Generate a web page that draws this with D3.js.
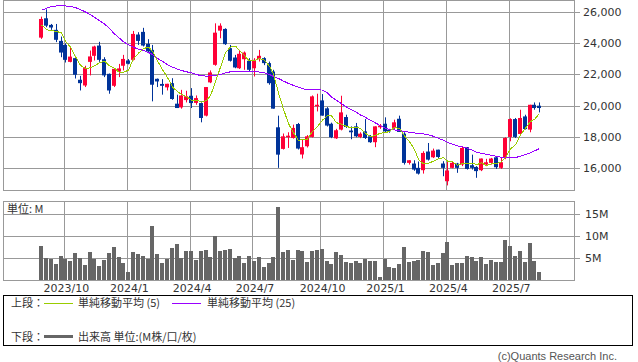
<!DOCTYPE html>
<html>
<head>
<meta charset="utf-8">
<script src="https://cdn.jsdelivr.net/npm/d3@7"></script>
<style>
  body { margin: 0; background: #fff; }
  text { font-family: "DejaVu Sans", "Noto Sans CJK JP", sans-serif; font-size: 11px; fill: #333; }
  .jp { font-family: "Noto Sans CJK JP", sans-serif; }
</style>
</head>
<body>
<svg width="638" height="362"></svg>
<script>
// weekly bars, 2023/08/28 .. 2025/08/18
const opens = [24370,25615,25190,24870,24160,23900,22810,23050,21660,21290,22810,23200,23860,22980,22040,21270,22190,22560,22900,22940,
  24570,24740,23970,23580,21720,21390,21170,21440,20120,19880,20350,20630,20170,20160,19350,21490,22620,24820,24930,23690,
  23090,22400,22980,22880,22400,22980,23050,22730,22190,18600,17210,17960,17910,18810,16850,17380,17980,19950,20330,19820,
  18830,17890,18450,19260,18390,18660,17980,18340,18020,17640,18600,18830,18450,18560,19150,18190,16310,16270,15990,15840,
  17040,16670,17160,16270,15130,15990,16270,16200,17320,16160,16050,15840,16200,16310,16670,15990,16630,17980,19130,18170,
  19300,18450,20050,19990];
const highs = [25720,26190,25250,25250,24440,24000,23800,23200,21910,22560,23540,23850,24100,23110,22060,22380,22680,23260,22990,24800,
  24720,25000,24270,23900,21740,21700,21400,21760,20700,21010,20950,21120,20650,20270,21190,22260,25290,25290,24970,23900,
  23260,23580,23480,23050,23050,23580,23110,22830,22300,19350,18200,18280,18770,18880,17830,18100,20650,20760,20740,19900,
  18900,18500,20630,19410,18660,18880,18280,19130,18100,18660,18810,19240,18500,19090,19350,18280,16480,16480,16400,17060,
  17590,17230,17160,16420,16420,16420,16310,17380,17320,16840,16100,16590,16570,16630,16740,16630,17960,19180,19200,19730,
  19410,20050,20200,20200];
const lows = [24290,25040,24870,24080,23110,22770,22780,21740,20970,21190,21940,22900,22810,21830,20760,21190,21830,22260,22650,22900,
  23900,23800,23370,20270,21190,20700,20970,20370,19840,19800,20200,19840,20050,18920,19300,21440,22560,24330,23900,22830,
  22400,22350,22300,22200,21870,22830,22600,21340,19800,15990,17170,17270,17870,17170,16590,17300,17940,19620,19350,18650,
  17900,17850,18400,18560,17830,17960,17900,17850,17600,17320,18500,18300,18250,18450,18300,16200,16200,15800,15560,15620,
  16460,16620,16600,15450,14860,15960,15670,16100,15880,15880,15350,15780,16100,16200,15920,15920,16550,17700,17910,18130,
  18450,18280,19730,19560];
const closes = [25570,25140,25020,24230,23410,22940,23150,21980,21440,22410,23160,23800,22940,21940,20970,22360,22390,23000,22690,24610,
  24160,23860,23480,21340,21550,21270,21400,20420,19840,20650,20600,20160,20480,19200,21190,22130,24690,25140,23950,22880,
  22450,23330,23410,22300,22940,23200,22730,21440,19800,16840,18020,18060,18560,17230,17320,18020,20590,20050,19350,18710,
  17960,18410,19560,18620,18280,18020,18190,17910,17640,18660,18710,18340,18340,18920,18300,16310,16480,15880,15620,16950,
  16520,17100,16690,15990,15820,16310,15990,17270,15920,15990,15780,16590,16350,16590,16030,16350,17910,19130,17980,19200,
  18490,20050,19840,19840];
// closes of the 4 weeks before the first bar (for the 5-week average)
const priorCloses = [26700, 25300, 24500, 23900];
// 25-week average as drawn
const ma25 = [26128,26257,26364,26406,26406,26406,26385,26300,26171,26021,25850,25679,25465,25251,24952,24610,24332,24096,23904,23754,
  23626,23540,23412,23284,23027,22856,22620,22471,22342,22257,22171,22107,22000,21914,21893,21914,21936,22000,22107,22171,
  22193,22193,22193,22193,22193,22150,22107,22000,21872,21743,21572,21423,21294,21187,21080,21038,21016,21016,20995,20802,
  20546,20332,20118,19904,19733,19561,19390,19241,19048,18877,18706,18535,18449,18428,18385,18342,18278,18236,18193,18171,
  18107,18022,17893,17765,17636,17508,17401,17337,17252,17123,16995,16931,16867,16803,16738,16674,16653,16631,16653,16738,
  16845,16952,17080,17230];
// volume, millions
const volumes = [7.8,5.0,4.8,3.7,5.5,4.8,4.35,6.2,5.0,3.4,6.4,4.8,3.2,4.6,6.2,7.6,5.3,3.9,1.8,6.4,
  6.0,5.5,4.8,12.4,6.0,3.9,4.8,7.3,8.2,5.0,6.6,6.6,4.6,6.6,6.9,5.3,10.1,6.6,6.9,7.1,
  5.0,5.5,3.9,5.5,4.35,5.3,3.0,3.9,5.3,16.7,6.4,6.9,4.6,6.9,6.6,4.1,6.6,6.9,7.1,4.35,
  3.7,6.4,5.7,4.1,3.9,4.35,3.9,4.8,4.35,4.35,0.7,4.8,3.0,2.7,3.7,7.6,4.1,4.35,4.6,6.6,
  6.4,3.4,3.9,6.2,8.7,3.4,3.9,3.9,5.5,5.3,4.35,5.3,3.7,4.6,4.1,4.1,9.2,7.8,5.5,6.6,
  4.1,8.5,4.35,1.8];

const xTickIndex = [5, 18, 31, 44, 58, 71, 84, 97];
const xTickLabels = ["2023/10", "2024/1", "2024/4", "2024/7", "2024/10", "2025/1", "2025/4", "2025/7"];
const priceTicks = [16000, 18000, 20000, 22000, 24000, 26000];
const volTicks = [5, 10, 15];

const svg = d3.select("svg");
const left = 3, right = 574;
const x = d3.scaleLinear().domain([-7.5, 110.6]).range([left, right]);
const y = d3.scaleLinear().domain([16000, 26000]).range([167.7, 12.3]);
const yv = d3.scaleLinear().domain([0, 15]).range([280, 214.3]);
const px = i => Math.round(x(i));
const crisp = v => Math.round(v) + 0.5;
const gridColor = "#999";

const ma5 = closes.map((c, i) => d3.mean(priorCloses.concat(closes).slice(i, i + 5)));

// ---- grids
function panelGrid(top, bottom, ticks, scale) {
  const g = svg.append("g").attr("stroke", gridColor).attr("stroke-width", 1).attr("fill", "none");
  ticks.forEach(t => {
    g.append("line").attr("x1", left + 0.5).attr("x2", right + 6)
      .attr("y1", crisp(scale(t))).attr("y2", crisp(scale(t)));
  });
  xTickIndex.forEach(i => {
    const gx = Math.floor(x(i) + 0.9) + 0.5;
    g.append("line").attr("x1", gx).attr("x2", gx).attr("y1", top).attr("y2", bottom);
  });
  g.append("rect").attr("x", left + 0.5).attr("y", top).attr("width", right - left).attr("height", bottom - top);
}
panelGrid(0.5, 190.5, priceTicks, y);
panelGrid(201.5, 280.5, volTicks, yv);

// ---- candles
const up = "#ff0036", down = "#003399";
const candles = svg.append("g").selectAll("g").data(closes).enter().append("g")
  .attr("fill", (c, i) => c >= opens[i] ? up : down)
  .attr("stroke", (c, i) => c >= opens[i] ? up : down);
candles.append("line")
  .attr("x1", (c, i) => px(i) + 2.5).attr("x2", (c, i) => px(i) + 2.5)
  .attr("y1", (c, i) => y(highs[i])).attr("y2", (c, i) => y(lows[i]))
  .attr("stroke-width", 1);
candles.append("rect")
  .attr("stroke", "none")
  .attr("x", (c, i) => px(i)).attr("width", 4)
  .attr("y", (c, i) => y(Math.max(c, opens[i])))
  .attr("height", (c, i) => Math.max(1, Math.abs(y(c) - y(opens[i]))));

// ---- moving averages (aliased like the original)
const line = d3.line().x((d, i) => px(i) + 2.5).y(d => y(d));
svg.append("path").datum(ma25).attr("d", line).attr("fill", "none").attr("stroke", "#9900ff")
  .attr("stroke-width", 1).attr("shape-rendering", "crispEdges");
svg.append("path").datum(ma5).attr("d", line).attr("fill", "none").attr("stroke", "#99cc00")
  .attr("stroke-width", 1).attr("shape-rendering", "crispEdges");

// ---- volume
svg.append("g").attr("fill", "#666").attr("shape-rendering", "crispEdges")
  .selectAll("rect").data(volumes).enter().append("rect")
  .attr("x", (v, i) => px(i)).attr("width", 4)
  .attr("y", v => yv(v)).attr("height", v => 280 - yv(v));

// ---- axis labels
svg.append("g").selectAll("text").data(priceTicks).enter().append("text")
  .attr("x", 583).attr("y", d => y(d)).attr("dy", "0.36em")
  .text(d => d3.format(",")(d));
svg.append("g").selectAll("text").data(volTicks).enter().append("text")
  .attr("x", 585).attr("y", d => yv(d)).attr("dy", "0.36em")
  .text(d => d + "M");
svg.append("g").selectAll("text").data(xTickIndex).enter().append("text")
  .attr("x", i => x(i) + 3).attr("y", 292).attr("text-anchor", "middle")
  .text((d, k) => xTickLabels[k]);
svg.append("text").attr("class", "jp").attr("x", 7).attr("y", 213).text("単位: M");

// ---- legend
svg.append("rect").attr("x", 3.5).attr("y", 295.5).attr("width", 629).attr("height", 50)
  .attr("fill", "none").attr("stroke", "#000");
const legend = svg.append("g").attr("class", "jp");
legend.append("text").attr("class", "jp").attr("x", 11).attr("y", 307).text("上段：");
legend.append("line").attr("x1", 44).attr("x2", 73).attr("y1", 303.5).attr("y2", 303.5).attr("stroke", "#99cc00");
legend.append("text").attr("class", "jp").attr("x", 78).attr("y", 307).text("単純移動平均 (5)");
legend.append("line").attr("x1", 172).attr("x2", 201).attr("y1", 303.5).attr("y2", 303.5).attr("stroke", "#9900ff");
legend.append("text").attr("class", "jp").attr("x", 207).attr("y", 307).text("単純移動平均 (25)");
legend.append("text").attr("class", "jp").attr("x", 11).attr("y", 341).text("下段：");
legend.append("line").attr("x1", 44).attr("x2", 73).attr("y1", 336.5).attr("y2", 336.5).attr("stroke", "#666").attr("stroke-width", 3);
legend.append("text").attr("class", "jp").attr("x", 78).attr("y", 341).text("出来高 単位:(M株/口/枚)");

svg.append("text").attr("x", 617).attr("y", 360).attr("text-anchor", "end")
  .style("font-family", "'Liberation Sans', Arial, sans-serif").style("fill", "#555")
  .text("(c)Quants Research Inc.");
</script>
</body>
</html>
